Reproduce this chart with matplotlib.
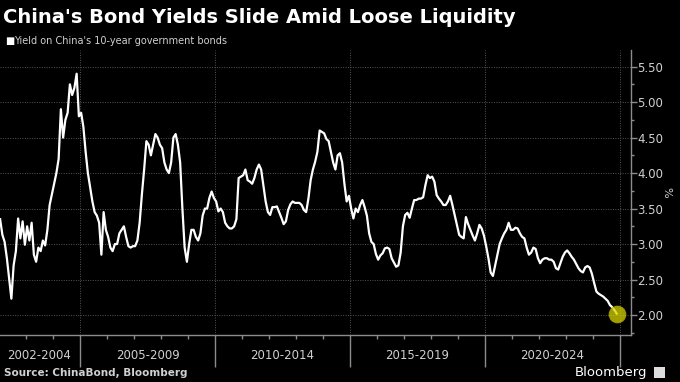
import matplotlib.pyplot as plt
import matplotlib.transforms as mtransforms
from matplotlib.patches import Rectangle
from matplotlib.ticker import FixedLocator, MultipleLocator, NullFormatter
import numpy as np

# monthly 10-year yields (%), Jan 2002 .. Nov 2024
y_2002_2004 = [3.35, 3.13, 3.03, 2.80, 2.52, 2.23, 2.70, 2.90, 3.36, 3.08, 3.32, 2.99,
               3.25, 3.05, 3.30, 2.85, 2.75, 2.95, 2.90, 3.05, 2.98, 3.20, 3.55, 3.70,
               3.85, 4.00, 4.20, 4.90, 4.50, 4.75, 4.85, 5.25, 5.10, 5.20, 5.40, 4.80]
y_2005_2009 = [4.85, 4.65, 4.30, 4.00, 3.80, 3.60, 3.45, 3.40, 3.30, 2.85, 3.45, 3.20,
               3.10, 2.95, 2.90, 3.00, 3.00, 3.15, 3.20, 3.25, 3.10, 2.97, 2.95, 2.97,
               2.97, 3.05, 3.30, 3.70, 4.05, 4.45, 4.40, 4.25, 4.40, 4.55, 4.50, 4.40,
               4.35, 4.15, 4.05, 4.00, 4.15, 4.50, 4.55, 4.40, 4.15, 3.50, 2.95, 2.75,
               3.00, 3.20, 3.20, 3.10, 3.05, 3.15, 3.40, 3.50, 3.50, 3.65, 3.74, 3.65]
y_2010_2014 = [3.60, 3.46, 3.50, 3.45, 3.30, 3.25, 3.22, 3.22, 3.25, 3.35, 3.93, 3.95,
               3.97, 4.05, 3.90, 3.88, 3.85, 3.93, 4.05, 4.12, 4.05, 3.83, 3.60, 3.45,
               3.41, 3.52, 3.52, 3.53, 3.45, 3.37, 3.28, 3.32, 3.48, 3.56, 3.60, 3.58,
               3.58, 3.58, 3.55, 3.48, 3.45, 3.64, 3.90, 4.05, 4.16, 4.30, 4.60, 4.58,
               4.56, 4.48, 4.45, 4.30, 4.15, 4.05, 4.25, 4.28, 4.15, 3.85, 3.60, 3.68]
y_2015_2019 = [3.50, 3.36, 3.50, 3.45, 3.55, 3.62, 3.52, 3.40, 3.15, 3.03, 3.00, 2.86,
               2.78, 2.84, 2.87, 2.94, 2.95, 2.93, 2.80, 2.74, 2.68, 2.70, 2.88, 3.25,
               3.41, 3.44, 3.37, 3.50, 3.62, 3.62, 3.64, 3.64, 3.66, 3.83, 3.97, 3.93,
               3.95, 3.88, 3.69, 3.64, 3.60, 3.55, 3.55, 3.60, 3.68, 3.55, 3.41, 3.27,
               3.13, 3.10, 3.08, 3.38, 3.28, 3.20, 3.12, 3.05, 3.15, 3.27, 3.22, 3.12]
y_2020_2024 = [2.97, 2.80, 2.60, 2.55, 2.70, 2.85, 3.00, 3.08, 3.15, 3.20, 3.30, 3.20,
               3.20, 3.23, 3.22, 3.15, 3.10, 3.08, 2.95, 2.85, 2.88, 2.95, 2.93, 2.80,
               2.73, 2.78, 2.80, 2.80, 2.78, 2.78, 2.75, 2.66, 2.64, 2.73, 2.82, 2.88,
               2.91, 2.87, 2.82, 2.78, 2.72, 2.66, 2.62, 2.60, 2.67, 2.69, 2.67, 2.58,
               2.45, 2.33, 2.30, 2.28, 2.26, 2.23, 2.20, 2.14, 2.11, 2.07, 2.02]

period_labels = ["2002-2004", "2005-2009", "2010-2014", "2015-2019", "2020-2024"]
period_edges = [2002, 2005, 2010, 2015, 2020, 2025]

yields = np.array(y_2002_2004 + y_2005_2009 + y_2010_2014 + y_2015_2019 + y_2020_2024)
t = 2002 + (np.arange(len(yields)) + 0.5) / 12  # mid-month, in years

grey = "#8c8c8c"
text_grey = "#d0d0d0"

fig = plt.figure(figsize=(6.8, 3.82), dpi=100, facecolor="black")
ax = fig.add_axes([0.0, 0.123, 0.928, 0.746])
ax.set_facecolor("black")

ax.plot(t, yields, color="white", lw=1.6, solid_joinstyle="round")
ax.plot(t[-1], yields[-1], "o", ms=12, color="#d8d400", alpha=0.75, mec="#b0a800", mew=0.8)

ax.set_xlim(2002.037, 2025.407)
ax.set_ylim(1.718, 5.734)

# axes frame
for side in ["left", "top"]:
    ax.spines[side].set_visible(False)
for side in ["right", "bottom"]:
    ax.spines[side].set_color(grey)
    ax.spines[side].set_linewidth(1.0)

# y axis on the right
ax.yaxis.tick_right()
ax.yaxis.set_label_position("right")
ax.yaxis.set_minor_locator(MultipleLocator(0.25))
ax.set_yticks([2.0, 2.5, 3.0, 3.5, 4.0, 4.5, 5.0, 5.5])
ax.yaxis.set_major_formatter(lambda v, pos: f"{v:.2f}")
ax.tick_params(axis="y", which="major", length=4, width=1, color=grey,
               labelcolor=text_grey, labelsize=8.5, pad=0.5)
ax.tick_params(axis="y", which="minor", length=2.5, width=1, color=grey)
ax.set_ylabel("%", color=text_grey, fontsize=8, rotation=270, labelpad=6)

# x axis: long separators every 5 years, small ticks every year
ax.xaxis.set_major_locator(FixedLocator(period_edges[1:]))
ax.xaxis.set_minor_locator(FixedLocator([yr for yr in range(2003, 2025) if yr % 5]))
ax.xaxis.set_major_formatter(NullFormatter())
ax.tick_params(axis="x", which="major", length=23, width=1, color=grey)
ax.tick_params(axis="x", which="minor", length=3, width=1, color=grey)

trans = mtransforms.blended_transform_factory(ax.transData, ax.transAxes)
for lab, lo, hi in zip(period_labels, period_edges[:-1], period_edges[1:]):
    ax.text((lo + hi) / 2, -0.072, lab, transform=trans, ha="center", va="center",
            color=text_grey, fontsize=8.5)

# dotted grid
ax.grid(True, which="major", axis="both", color="#555555", linestyle=(0, (1, 1.5)), linewidth=0.7)
ax.set_axisbelow(True)

# titles
fig.text(0.005, 0.955, "China's Bond Yields Slide Amid Loose Liquidity", color="white",
         fontsize=14, fontweight="bold", ha="left", va="center")
fig.text(0.008, 0.893, "\u25a0", color="white", fontsize=7, ha="left", va="center")
fig.text(0.02, 0.893, "Yield on China's 10-year government bonds", color=text_grey,
         fontsize=7, ha="left", va="center")

# footer
fig.text(0.006, 0.024, "Source: ChinaBond, Bloomberg", color=text_grey, fontsize=7.5,
         fontweight="bold", ha="left", va="center")
fig.text(0.952, 0.024, "Bloomberg", color="white", fontsize=9.5, ha="right", va="center")
fig.patches.append(Rectangle((0.962, 0.010), 0.016, 0.029, transform=fig.transFigure,
                             facecolor="#dddddd", edgecolor="none"))

fig.savefig("out.png", dpi=100, facecolor="black")
